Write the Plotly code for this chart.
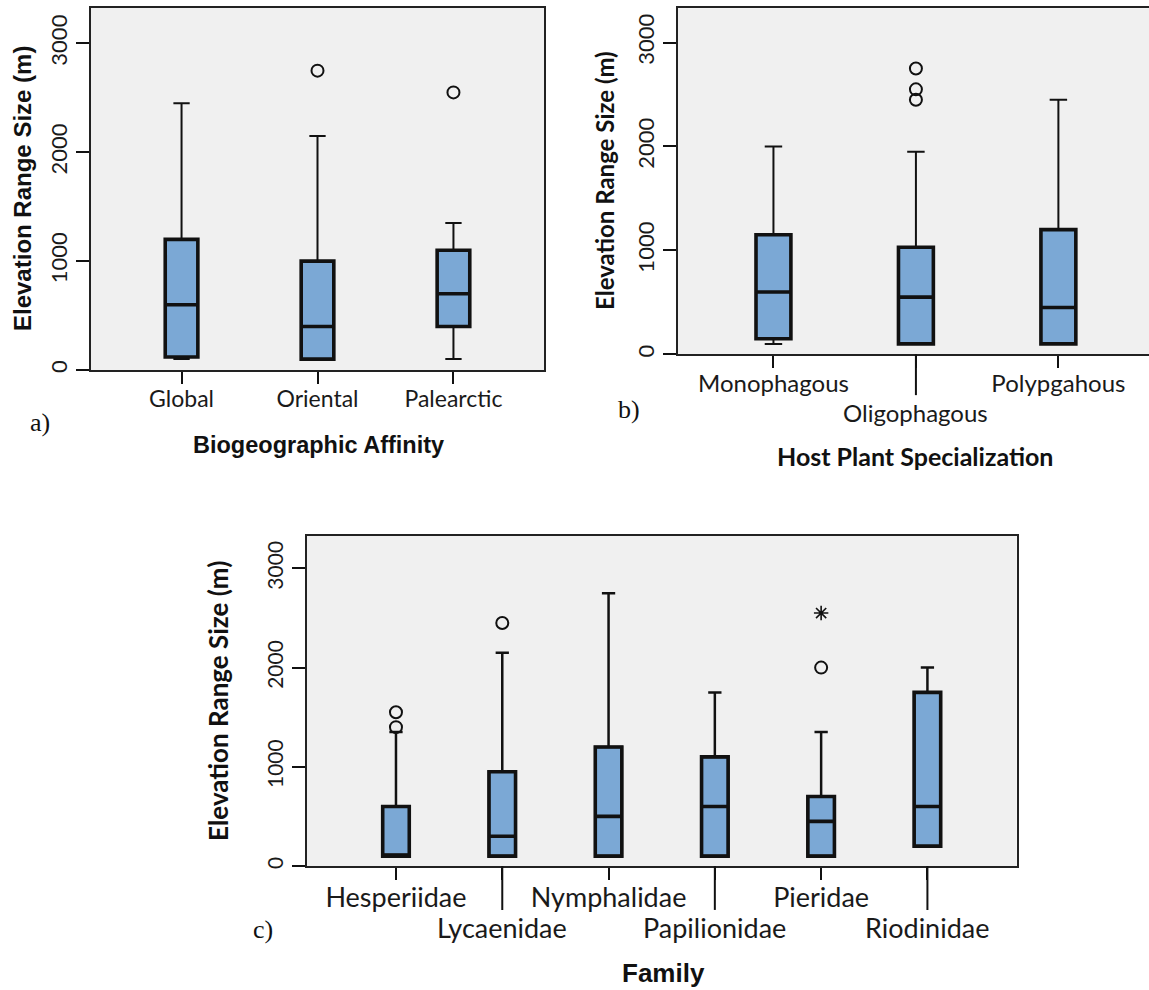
import plotly.graph_objects as go

# ---- data: elevation range size (m) summaries per group ----
affinity = ["Global", "Oriental", "Palearctic"]
aff_low = [100, 100, 100]
aff_q1 = [120, 100, 400]
aff_med = [600, 400, 700]
aff_q3 = [1200, 1000, 1100]
aff_high = [2450, 2150, 1350]
aff_out_cat = ["Oriental", "Palearctic"]
aff_out_val = [2750, 2550]

host = ["Monophagous", "Oligophagous", "Polypgahous"]
host_low = [100, 100, 100]
host_q1 = [150, 100, 100]
host_med = [600, 550, 450]
host_q3 = [1150, 1030, 1200]
host_high = [2000, 1950, 2450]
host_out_cat = ["Oligophagous", "Oligophagous", "Oligophagous"]
host_out_val = [2450, 2550, 2750]

family = ["Hesperiidae", "Lycaenidae", "Nymphalidae", "Papilionidae", "Pieridae", "Riodinidae"]
fam_low = [100, 100, 100, 100, 100, 200]
fam_q1 = [100, 100, 100, 100, 100, 200]
fam_med = [100, 300, 500, 600, 450, 600]
fam_q3 = [600, 950, 1200, 1100, 700, 1750]
fam_high = [1350, 2150, 2750, 1750, 1350, 2000]
fam_out_cat = ["Hesperiidae", "Hesperiidae", "Lycaenidae", "Pieridae"]
fam_out_val = [1400, 1550, 2450, 2000]
fam_ext_cat = ["Pieridae"]
fam_ext_val = [2550]

y_ticks = [0, 1000, 2000, 3000]

# ---- styling ----
W, H = 1149, 990
FILL = "#7BA8D5"
INK = "#111111"
FRAME = "#222222"
BG = "#F0F0F0"
TICK_FONT = "Lato, Open Sans, sans-serif"
ARIAL = "Liberation Sans, Arial, sans-serif"
NARROW = "Liberation Sans Narrow, Liberation Sans, Arial, sans-serif"
SERIF = "Liberation Serif, Times New Roman, serif"

fig = go.Figure()


def add_boxes(cats, lo, q1, med, q3, hi, xa, ya, width, thin, thick):
    # thin pass: filled box with whiskers and caps
    fig.add_trace(go.Box(
        x=cats, q1=q1, median=med, q3=q3, lowerfence=lo, upperfence=hi,
        width=width, whiskerwidth=0.5, fillcolor=FILL,
        line=dict(color=INK, width=thin), boxpoints=False,
        xaxis=xa, yaxis=ya, showlegend=False, hoverinfo="skip"))
    # thick pass: heavy box outline and median
    fig.add_trace(go.Box(
        x=cats, q1=q1, median=med, q3=q3, lowerfence=q1, upperfence=q3,
        width=width, whiskerwidth=0, fillcolor="rgba(0,0,0,0)",
        line=dict(color=INK, width=thick), boxpoints=False,
        xaxis=xa, yaxis=ya, showlegend=False, hoverinfo="skip"))


def add_points(cats, vals, xa, ya, symbol="circle-open", size=12, lw=2):
    fig.add_trace(go.Scatter(
        x=cats, y=vals, mode="markers",
        marker=dict(symbol=symbol, size=size, color=INK, line=dict(width=lw, color=INK)),
        xaxis=xa, yaxis=ya, showlegend=False, hoverinfo="skip"))


add_boxes(affinity, aff_low, aff_q1, aff_med, aff_q3, aff_high, "x", "y", 0.24, 2, 3.6)
add_points(aff_out_cat, aff_out_val, "x", "y")

add_boxes(host, host_low, host_q1, host_med, host_q3, host_high, "x2", "y2", 0.245, 2, 3.6)
add_points(host_out_cat, host_out_val, "x2", "y2")

add_boxes(family, fam_low, fam_q1, fam_med, fam_q3, fam_high, "x3", "y3", 0.25, 2.5, 3.6)
add_points(fam_out_cat, fam_out_val, "x3", "y3")
add_points(fam_ext_cat, fam_ext_val, "x3", "y3", symbol="asterisk-open", size=12, lw=1.6)


def xaxis_cfg(cats, rng, domain, anchor, ticktext, size, mirror=True):
    return dict(
        type="category", categoryorder="array", categoryarray=cats,
        tickvals=cats, ticktext=ticktext, range=rng, domain=domain, anchor=anchor,
        tickangle=0, automargin=False, ticklabelstandoff=-5,
        showline=True, linecolor=FRAME, linewidth=2, mirror=mirror,
        ticks="outside", ticklen=12, tickwidth=2, tickcolor=INK,
        tickfont=dict(family=TICK_FONT, size=size, color="#1a1a1a"),
        showgrid=False, zeroline=False, fixedrange=True)


def yaxis_cfg(domain, anchor, size, mirror=True):
    return dict(
        range=[0, 3330], domain=domain, anchor=anchor, tickvals=y_ticks,
        tickangle=-90, automargin=False,
        showline=True, linecolor=FRAME, linewidth=2, mirror=mirror,
        ticks="outside", ticklen=13, tickwidth=2, tickcolor=INK,
        tickfont=dict(family=TICK_FONT, size=size, color="#1a1a1a"),
        showgrid=False, zeroline=False, fixedrange=True)


def px_x(p):
    return p / W


def px_y(p):
    return 1 - p / H


# every other category label drops to a second row (drawn as annotations below)
host_text = [c if i % 2 == 0 else "" for i, c in enumerate(host)]
fam_text = [c if i % 2 == 0 else "" for i, c in enumerate(family)]

fig.update_layout(
    width=W, height=H,
    margin=dict(l=0, r=0, t=0, b=0, autoexpand=False),
    paper_bgcolor="white", plot_bgcolor=BG,
    boxmode="overlay",
    xaxis=xaxis_cfg(affinity, [-0.666, 2.666], [px_x(91), px_x(544)], "y", affinity, 23),
    yaxis=yaxis_cfg([px_y(370), px_y(7.5)], "x", 22),
    xaxis2=xaxis_cfg(host, [-0.67, 2.636], [px_x(678), 1.0], "y2", host_text, 24),
    yaxis2=yaxis_cfg([px_y(354.3), px_y(8.3)], "x2", 22, mirror=False),
    xaxis3=xaxis_cfg(family, [-0.84, 5.84], [px_x(306.7), px_x(1016.7)], "y3", fam_text, 27),
    yaxis3=yaxis_cfg([px_y(866), px_y(535.7)], "x3", 21),
)

# longer tick marks under the second-row category labels
for cat in host[1::2]:
    fig.add_shape(type="line", xref="x2", yref="y2 domain", x0=cat, x1=cat, y0=0, y1=-0.118,
                  line=dict(color=INK, width=2))
for cat in family[1::2]:
    fig.add_shape(type="line", xref="x3", yref="y3 domain", x0=cat, x1=cat, y0=0, y1=-0.133,
                  line=dict(color=INK, width=2))

annotations = [
    # y-axis titles
    dict(text="Elevation Range Size (m)", x=px_x(22), y=px_y(189), textangle=-90,
         font=dict(family=ARIAL, size=24, color="#111", weight="bold")),
    dict(text="Elevation Range Size (m)", x=px_x(605), y=px_y(181), textangle=-90,
         font=dict(family=TICK_FONT, size=24, color="#111", weight="bold")),
    dict(text="Elevation Range Size (m)", x=px_x(218), y=px_y(701), textangle=-90,
         font=dict(family=TICK_FONT, size=26, color="#111", weight="bold")),
    # x-axis titles
    dict(text="Biogeographic Affinity", x=px_x(318), y=px_y(445),
         font=dict(family=ARIAL, size=23.5, color="#111", weight="bold")),
    dict(text="Host Plant Specialization", x=px_x(915), y=px_y(456),
         font=dict(family=TICK_FONT, size=25, color="#111", weight="bold")),
    dict(text="Family", x=px_x(663), y=px_y(973),
         font=dict(family=NARROW, size=26, color="#111", weight="bold")),
    # panel letters
    dict(text="a)", x=px_x(40), y=px_y(422), font=dict(family=SERIF, size=26, color="#111")),
    dict(text="b)", x=px_x(629), y=px_y(409), font=dict(family=SERIF, size=26, color="#111")),
    dict(text="c)", x=px_x(263), y=px_y(929), font=dict(family=SERIF, size=26, color="#111")),
]
for a in annotations:
    a.update(xref="paper", yref="paper", showarrow=False, xanchor="center", yanchor="middle")

# second-row category labels, placed at their category positions
for cat in host[1::2]:
    annotations.append(dict(text=cat, x=cat, xref="x2", y=px_y(412), yref="paper",
                            showarrow=False, xanchor="center", yanchor="middle",
                            font=dict(family=TICK_FONT, size=24, color="#1a1a1a")))
for cat in family[1::2]:
    annotations.append(dict(text=cat, x=cat, xref="x3", y=px_y(927), yref="paper",
                            showarrow=False, xanchor="center", yanchor="middle",
                            font=dict(family=TICK_FONT, size=27, color="#1a1a1a")))

fig.update_layout(annotations=annotations)

fig.write_html("out.html")
